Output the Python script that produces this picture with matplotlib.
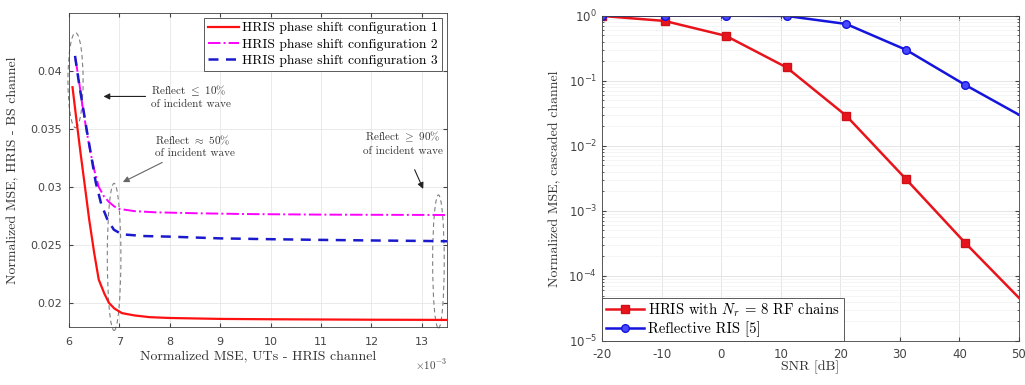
import numpy as np
import matplotlib
matplotlib.use("Agg")
import matplotlib.pyplot as plt
from matplotlib.patches import Ellipse

plt.rcParams['mathtext.fontset'] = 'cm'
plt.rcParams['axes.unicode_minus'] = False
SERIF = ['cmr10', 'DejaVu Serif']

# ---------------- Left panel data (x in units of 1e-3) ----------------
x_cfg1 = [6.07, 6.15, 6.23, 6.32, 6.40, 6.50, 6.59, 6.70, 6.79, 6.90, 7.05, 7.3, 7.6, 8.0, 9.0, 10.0, 11.0, 12.0, 13.0, 13.5]
y_cfg1 = [0.0386, 0.0357, 0.0329, 0.0299, 0.0272, 0.0243, 0.0220, 0.0208, 0.0200, 0.0195, 0.0191, 0.0189,
          0.01875, 0.01868, 0.01860, 0.01857, 0.01855, 0.01853, 0.01852, 0.01851]

x_cfg2 = [6.13, 6.20, 6.26, 6.35, 6.43, 6.51, 6.59, 6.69, 6.79, 6.90, 6.99, 7.3, 7.71, 8.5, 9.5, 11.0, 12.5, 13.5]
y_cfg2 = [0.0410, 0.0391, 0.0372, 0.0348, 0.0329, 0.0313, 0.0300, 0.0292, 0.0287, 0.0283, 0.0281, 0.0279,
          0.0278, 0.02772, 0.02765, 0.0276, 0.02758, 0.02757]

x_cfg3 = [6.12, 6.20, 6.28, 6.36, 6.44, 6.53, 6.64, 6.76, 6.89, 7.05, 7.5, 8.0, 9.0, 10.0, 11.0, 12.0, 13.0, 13.5]
y_cfg3 = [0.0413, 0.0389, 0.0368, 0.0347, 0.0327, 0.0304, 0.0285, 0.0272, 0.0263, 0.0259, 0.02575, 0.0257,
          0.02555, 0.02548, 0.02542, 0.02537, 0.02533, 0.0253]

left_labels = ['HRIS phase shift configuration 1',
               'HRIS phase shift configuration 2',
               'HRIS phase shift configuration 3']
left_xticks = [6, 7, 8, 9, 10, 11, 12, 13]
left_yticks = [0.02, 0.025, 0.03, 0.035, 0.04]
left_ytick_labels = ['0.02', '0.025', '0.03', '0.035', '0.04']

# ---------------- Right panel data ----------------
snr = [-20, -9.5, 0.8, 11, 21, 31, 41, 50]
mse_hris = [0.99, 0.83, 0.49, 0.16, 0.029, 0.0031, 0.00032, 0.000046]
mse_ris = [1.0, 1.0, 1.0, 0.99, 0.745, 0.30, 0.086, 0.030]
right_labels = [r'HRIS with $N_r$ = 8 RF chains', 'Reflective RIS [5]']
right_xticks = [-20, -10, 0, 10, 20, 30, 40, 50]

fig = plt.figure(figsize=(10.25, 3.85), dpi=100)
fig.patch.set_facecolor('white')

# ================= Left axes =================
ax1 = fig.add_axes([0.0673, 0.1506, 0.3688, 0.8156])
ax1.plot(x_cfg1, y_cfg1, color='#ff1010', lw=1.6, ls='-', label=left_labels[0])
ax1.plot(x_cfg2, y_cfg2, color='#ff00ff', lw=1.4, ls='-.', label=left_labels[1])
ax1.plot(x_cfg3, y_cfg3, color='#1a1acc', lw=1.8, ls=(0, (4, 3)), label=left_labels[2])
ax1.set_xlim(6, 13.5)
ax1.set_ylim(0.0179, 0.045)
ax1.set_xticks(left_xticks)
ax1.set_yticks(left_yticks)
ax1.set_yticklabels(left_ytick_labels)
ax1.grid(True, color='#e6e6e6', lw=0.6)
ax1.set_axisbelow(True)
ax1.tick_params(direction='in', labelsize=8, colors='#444444', length=3, top=True, right=True)
ax1.tick_params(axis='x', pad=7)
ax1.tick_params(axis='y', pad=5)
for s in ax1.spines.values():
    s.set_color('#404040')
    s.set_linewidth(0.6)
ax1.set_xlabel('Normalized MSE, UTs - HRIS channel', fontfamily=SERIF, fontsize=10, labelpad=3, color='#333333')
ax1.set_ylabel('Normalized MSE, HRIS - BS channel', fontfamily=SERIF, fontsize=10, labelpad=8, color='#333333')
ax1.text(1.0, -0.095, r'$\times10^{-3}$', transform=ax1.transAxes, ha='right', va='top', fontsize=8, color='#444444')

leg1 = ax1.legend(loc='upper right', prop={'family': SERIF, 'size': 9.8}, frameon=True, fancybox=False,
                  borderpad=0.3, labelspacing=0.28, handlelength=2.3, handletextpad=0.25,
                  borderaxespad=0.35)
leg1.get_frame().set_edgecolor('#404040')
leg1.get_frame().set_linewidth(0.6)
leg1.get_frame().set_alpha(1.0)

# dashed ellipses marking the regions
for cx, cy, w, h in [(6.13, 0.0392, 0.30, 0.0082), (6.895, 0.02395, 0.27, 0.0127), (13.33, 0.02355, 0.23, 0.0115)]:
    e = Ellipse((cx, cy), w, h, fill=False, ls=(0, (4, 3)), lw=0.8, ec='#808080', clip_on=False)
    ax1.add_patch(e)

# annotations
ax1.annotate('Reflect $\\leq$ 10%\nof incident wave', xy=(6.63, 0.0378), xytext=(7.63, 0.0378),
             fontsize=8, fontfamily=SERIF, ha='left', va='center', color='#333333',
             arrowprops=dict(arrowstyle='-|>', color='#222222', lw=0.8, mutation_scale=9))
ax1.annotate('Reflect $\\approx$ 50%\nof incident wave', xy=(7.02, 0.0303), xytext=(7.7, 0.0335),
             fontsize=8, fontfamily=SERIF, ha='left', va='center', color='#333333',
             arrowprops=dict(arrowstyle='-|>', color='#666666', lw=0.8, mutation_scale=9))
ax1.annotate('Reflect $\\geq$ 90%\nof incident wave', xy=(13.05, 0.0296), xytext=(12.62, 0.0338),
             fontsize=8, fontfamily=SERIF, ha='center', va='center', color='#333333',
             arrowprops=dict(arrowstyle='-|>', color='#222222', lw=0.8, mutation_scale=9,
                             shrinkA=9))

# ================= Right axes =================
ax2 = fig.add_axes([0.5873, 0.1143, 0.4068, 0.845])
ax2.plot(snr, mse_hris, color='#e8141c', lw=1.8, marker='s', ms=5.5, mfc='#e8141c', mec='#d01018',
         markevery=list(range(7)), label=right_labels[0])
ax2.plot(snr, mse_ris, color='#1414dd', lw=1.8, marker='o', ms=5.5, mfc='#4848ff', mec='#1414dd',
         markevery=list(range(7)), label=right_labels[1])
ax2.set_yscale('log')
ax2.set_xlim(-20, 50)
ax2.set_ylim(1e-5, 1.0)
ax2.set_xticks(right_xticks)
ax2.set_xticklabels([str(v) for v in right_xticks])
ax2.set_yticks([1e-5, 1e-4, 1e-3, 1e-2, 1e-1, 1e0])
ax2.grid(True, which='major', color='#e0e0e0', lw=0.6)
ax2.grid(True, which='minor', axis='y', color='#f2f2f2', lw=0.5)
ax2.set_axisbelow(True)
ax2.tick_params(which='both', direction='in', labelsize=8.5, colors='#444444', top=True, right=True)
ax2.tick_params(which='major', length=3)
ax2.tick_params(which='minor', length=1.5)
ax2.tick_params(axis='x', pad=5)
for s in ax2.spines.values():
    s.set_color('#404040')
    s.set_linewidth(0.6)
ax2.set_xlabel('SNR [dB]', fontfamily=SERIF, fontsize=10, labelpad=0, color='#333333')
ax2.set_ylabel('Normalized MSE, cascaded channel', fontfamily=SERIF, fontsize=10, labelpad=5, color='#333333')

leg2 = ax2.legend(loc='lower left', prop={'family': SERIF, 'size': 10.6}, frameon=True, fancybox=False,
                  borderpad=0.25, labelspacing=0.2, handlelength=2.6, handletextpad=0.3,
                  borderaxespad=0.0)
leg2.get_frame().set_edgecolor('#404040')
leg2.get_frame().set_linewidth(0.6)
leg2.get_frame().set_alpha(1.0)

fig.savefig('out.png', dpi=100, facecolor='white')
